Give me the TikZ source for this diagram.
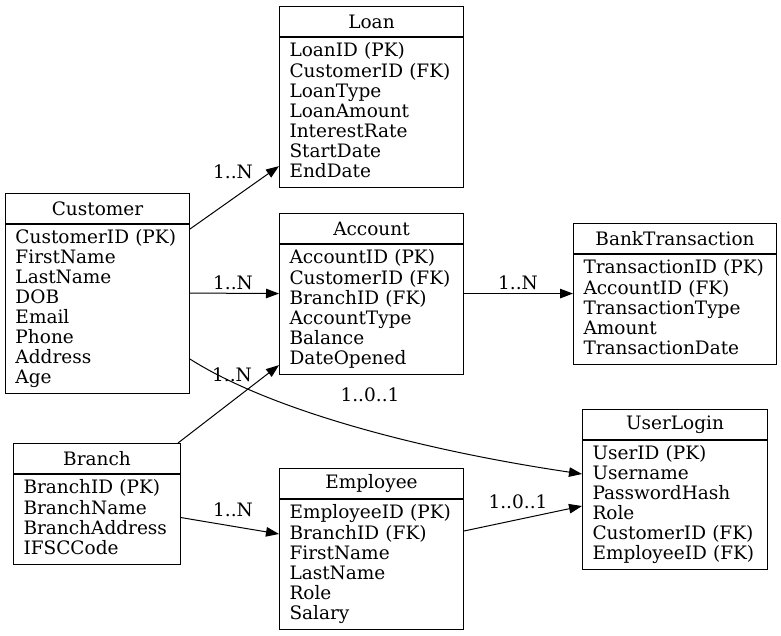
\documentclass[tikz,border=0pt]{standalone}
\usepackage{fontspec}
\setmainfont{DejaVu Serif}
\usetikzlibrary{arrows.meta,positioning,calc}
\tikzset{
  ent/.style={draw, line width=1pt, anchor=north west, minimum height=30pt, inner sep=0pt},
  attrs/.style={draw, line width=1pt, align=left, inner xsep=10pt, inner ysep=4.5pt,
    execute at begin node=\strut, execute at end node=\strut},
  rel/.style={-{Triangle[length=13pt,width=9.5pt]}, line width=1pt},
  card/.style={inner sep=0pt}}

\begin{document}
\begin{tikzpicture}[x=1pt, y=-1pt, font=\fontsize{18.5}{20}\selectfont]
  \useasboundingbox (0,0) rectangle (781,635);
  % tables
  \node[ent, minimum width=184pt] (loan) at (279,6) {Loan};
  \node[attrs, text width=164pt, below=0pt of loan] (loanb) {LoanID (PK)\\CustomerID (FK)\\LoanType\\LoanAmount\\InterestRate\\StartDate\\EndDate};
  \node[ent, minimum width=184pt] (cust) at (5,193) {Customer};
  \node[attrs, text width=164pt, below=0pt of cust] (custb) {CustomerID (PK)\\FirstName\\LastName\\DOB\\Email\\Phone\\Address\\Age};
  \node[ent, minimum width=184pt] (acct) at (279,213) {Account};
  \node[attrs, text width=164pt, below=0pt of acct] (acctb) {AccountID (PK)\\CustomerID (FK)\\BranchID (FK)\\AccountType\\Balance\\DateOpened};
  \node[ent, minimum width=203pt] (btx) at (573,223) {BankTransaction};
  \node[attrs, text width=183pt, below=0pt of btx] (btxb) {TransactionID (PK)\\AccountID (FK)\\TransactionType\\Amount\\TransactionDate};
  \node[ent, minimum width=185pt] (ulog) at (582,409) {UserLogin};
  \node[attrs, text width=165pt, below=0pt of ulog] (ulogb) {UserID (PK)\\Username\\PasswordHash\\Role\\CustomerID (FK)\\EmployeeID (FK)};
  \node[ent, minimum width=167pt] (branch) at (13,443) {Branch};
  \node[attrs, text width=147pt, below=0pt of branch] (branchb) {BranchID (PK)\\BranchName\\BranchAddress\\IFSCCode};
  \node[ent, minimum width=184pt] (emp) at (279,468) {Employee};
  \node[attrs, text width=164pt, below=0pt of emp] (empb) {EmployeeID (PK)\\BranchID (FK)\\FirstName\\LastName\\Role\\Salary};
  % relations
  \draw[rel] ($(custb.north east)+(0,5)$) -- ($(loanb.south west)+(0,-22)$);
  \draw[rel] ($(custb.east)+(0,-16)$) -- ($(acctb.west)+(0,-16)$);
  \draw[rel] ($(custb.south east)+(0,-35)$) .. controls (270,410) and (420,450) .. ($(ulogb.north west)+(0,34)$);
  \draw[rel] ($(branch.north east)+(-3,0)$) -- ($(acctb.south west)+(0,-10)$);
  \draw[rel] ($(branchb.east)+(0,-2)$) -- ($(empb.north west)+(0,35)$);
  \draw[rel] ($(acctb.east)+(0,-16)$) -- ($(btxb.west)+(0,-16)$);
  \draw[rel] ($(empb.north east)+(0,32)$) -- ($(ulogb.north west)+(0,66)$);
  % cardinalities
  \node[card] (c1) at (233,172) {1..N};
  \node[card] (c2) at (233,283) {1..N};
  \node[card] (c3) at (370,395) {1..0..1};
  \node[card] (c4) at (232,375) {1..N};
  \node[card] (c5) at (233,510) {1..N};
  \node[card] (c6) at (518,283) {1..N};
  \node[card] (c7) at (518,502) {1..0..1};
\end{tikzpicture}
\end{document}
